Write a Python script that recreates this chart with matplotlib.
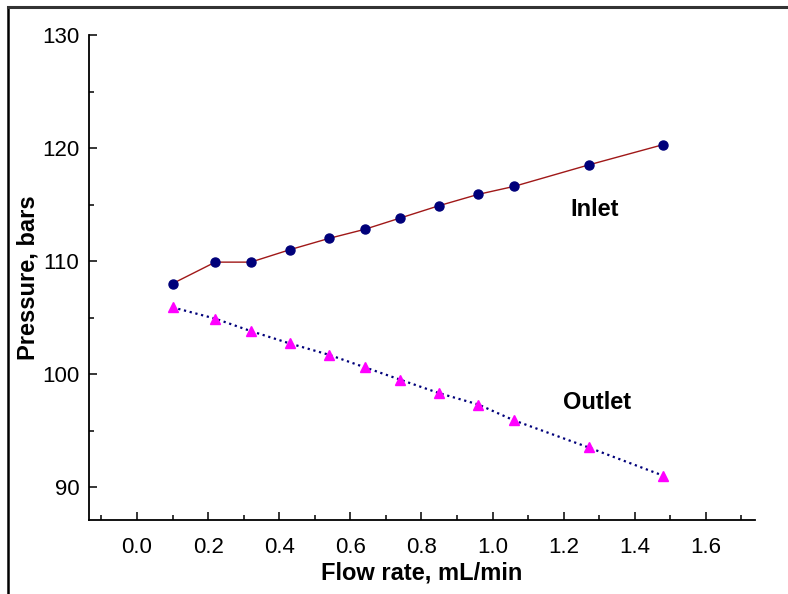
import matplotlib
matplotlib.use("Agg")
import matplotlib.pyplot as plt
from matplotlib.lines import Line2D
from matplotlib.ticker import MultipleLocator

plt.rcParams['font.family'] = ['Liberation Sans', 'DejaVu Sans']

flow = [0.10, 0.22, 0.32, 0.43, 0.54, 0.64, 0.74, 0.85, 0.96, 1.06, 1.27, 1.48]
inlet = [108.0, 109.9, 109.9, 111.0, 112.0, 112.8, 113.8, 114.9, 115.9, 116.6, 118.5, 120.3]
outlet = [105.9, 104.9, 103.8, 102.7, 101.7, 100.6, 99.5, 98.3, 97.3, 95.9, 93.5, 91.0]

fig = plt.figure(figsize=(7.88, 5.94), dpi=100)
ax = fig.add_axes([89/788, 1-520/594, (755-89)/788, (520-35)/594])

ax.plot(flow, inlet, '-', color='#a01818', lw=1.0, marker='o', ms=6.5,
        mfc='#00007a', mec='#00007a', zorder=3)
ax.plot(flow, outlet, ':', color='#00007a', lw=1.6, marker='^', ms=6.5,
        mfc='#ff00ff', mec='#ff00ff', zorder=3)

ax.text(1.288, 114.6, 'Inlet', fontsize=17, fontweight='bold', ha='center', va='center')
ax.text(1.294, 97.45, 'Outlet', fontsize=17, fontweight='bold', ha='center', va='center')

ax.set_xlim(-0.135, 1.738)
ax.set_ylim(87.08, 130)
ax.xaxis.set_minor_locator(MultipleLocator(0.1))
ax.yaxis.set_minor_locator(MultipleLocator(5))
ax.set_yticks([90, 100, 110, 120, 130])
ax.set_xticks([0.0, 0.2, 0.4, 0.6, 0.8, 1.0, 1.2, 1.4, 1.6])
ax.set_xticklabels(['0.0', '0.2', '0.4', '0.6', '0.8', '1.0', '1.2', '1.4', '1.6'])

for s in ['top', 'right']:
    ax.spines[s].set_visible(False)
for s in ['left', 'bottom']:
    ax.spines[s].set_linewidth(1.3)
ax.tick_params(which='both', direction='in', labelsize=16, width=1.1,
               top=False, right=False)
ax.tick_params(which='major', length=6)
ax.tick_params(which='minor', length=3.5)
ax.tick_params(axis='x', which='major', pad=12)
ax.tick_params(axis='y', which='major', pad=7)

ax.set_xlabel('Flow rate, mL/min', fontsize=17, fontweight='bold', labelpad=3)
ax.set_ylabel('Pressure, bars', fontsize=17, fontweight='bold', labelpad=2)

fig.add_artist(Line2D([8/788, 8/788], [0, 1-7/594], transform=fig.transFigure,
                      color='black', lw=1.8))
fig.add_artist(Line2D([8/788, 1], [1-7/594, 1-7/594], transform=fig.transFigure,
                      color='#333333', lw=2.2))

fig.savefig('out.png', dpi=100)
